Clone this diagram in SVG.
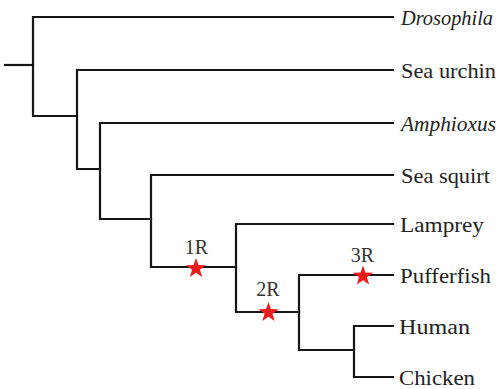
<svg xmlns="http://www.w3.org/2000/svg" width="499" height="389" viewBox="0 0 499 389">
  <style>
    .br { fill: none; stroke: #161616; stroke-width: 2.2; stroke-linecap: square; }
    .lbl { font-family: "Liberation Serif", "Times New Roman", serif; font-size: 22px; fill: #222222; }
    .it { font-style: italic; }
    .ev { font-family: "Liberation Serif", "Times New Roman", serif; font-size: 20px; fill: #333333; text-anchor: middle; }
    .star { fill: #ee1c1c; }
  </style>
  <defs>
    <path id="star" class="star" d="M0,-10.5 L2.47,-3.40 L9.99,-3.24 L3.99,1.30 L6.17,8.49 L0,4.2 L-6.17,8.49 L-3.99,1.30 L-9.99,-3.24 L-2.47,-3.40 Z"/>
  </defs>
  <rect width="499" height="389" fill="#ffffff"/>

  <g id="connectors" class="br">
    <path d="M5,65 H33"/>
    <path d="M393,17 H33 V116 H77"/>
    <path d="M393,70 H77 V169 H100"/>
    <path d="M393,123 H100 V219 H151"/>
    <path d="M393,175 H151 V267 H236"/>
    <path d="M393,224 H236 V312 H299"/>
    <path d="M393,275 H299 V350 H354"/>
    <path d="M393,326 H354 V377 H393"/>
  </g>

  <g id="drosophila"><text class="lbl it" x="401" y="25" textLength="92" lengthAdjust="spacingAndGlyphs">Drosophila</text></g>
  <g id="sea-urchin"><text class="lbl" x="401" y="78" textLength="95" lengthAdjust="spacingAndGlyphs">Sea urchin</text></g>
  <g id="amphioxus"><text class="lbl it" x="401" y="131" textLength="95" lengthAdjust="spacingAndGlyphs">Amphioxus</text></g>
  <g id="sea-squirt"><text class="lbl" x="401" y="183" textLength="89" lengthAdjust="spacingAndGlyphs">Sea squirt</text></g>
  <g id="lamprey"><text class="lbl" x="400" y="232" textLength="84" lengthAdjust="spacingAndGlyphs">Lamprey</text></g>
  <g id="pufferfish"><text class="lbl" x="400" y="283" textLength="91" lengthAdjust="spacingAndGlyphs">Pufferfish</text></g>
  <g id="human"><text class="lbl" x="399" y="334" textLength="71" lengthAdjust="spacingAndGlyphs">Human</text></g>
  <g id="chicken"><text class="lbl" x="399" y="385" textLength="76" lengthAdjust="spacingAndGlyphs">Chicken</text></g>

  <g id="event-1R">
    <use href="#star" x="196" y="268.5"/>
    <text class="ev" x="196.5" y="254">1R</text>
  </g>
  <g id="event-2R">
    <use href="#star" x="268.5" y="312.5"/>
    <text class="ev" x="268" y="296">2R</text>
  </g>
  <g id="event-3R">
    <use href="#star" x="363" y="276"/>
    <text class="ev" x="362.5" y="262">3R</text>
  </g>
</svg>
